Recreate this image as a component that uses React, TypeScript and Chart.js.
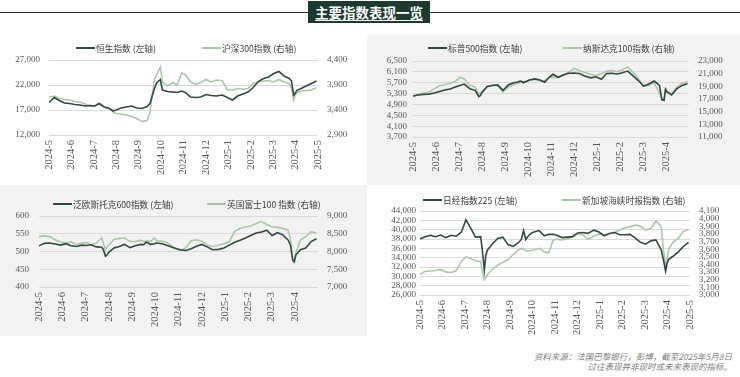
import React, { useEffect, useRef } from "react";
import { Chart, registerables } from "chart.js";

Chart.register(...registerables);

// ---------------- DATA ----------------
const AXIS_START = "2024-05-10";

const DATES = [
  "2024-05-10", "2024-05-17", "2024-05-24", "2024-05-31",
  "2024-06-07", "2024-06-14", "2024-06-21", "2024-06-28",
  "2024-07-05", "2024-07-11", "2024-07-17", "2024-07-24", "2024-07-31",
  "2024-08-02", "2024-08-05", "2024-08-07", "2024-08-09", "2024-08-16", "2024-08-23", "2024-08-30",
  "2024-09-06", "2024-09-13", "2024-09-20", "2024-09-24", "2024-09-27", "2024-09-30",
  "2024-10-03", "2024-10-08", "2024-10-11", "2024-10-18", "2024-10-25", "2024-10-31",
  "2024-11-06", "2024-11-11", "2024-11-18", "2024-11-25",
  "2024-12-02", "2024-12-09", "2024-12-16", "2024-12-23", "2024-12-31",
  "2025-01-07", "2025-01-14", "2025-01-21", "2025-01-28",
  "2025-02-04", "2025-02-11", "2025-02-18", "2025-02-25",
  "2025-03-04", "2025-03-11", "2025-03-18", "2025-03-25", "2025-04-01",
  "2025-04-04", "2025-04-07", "2025-04-09", "2025-04-11", "2025-04-17", "2025-04-24",
  "2025-05-01", "2025-05-08",
];

const MONTH_LABELS = [
  "2024-5", "2024-6", "2024-7", "2024-8", "2024-9", "2024-10", "2024-11",
  "2024-12", "2025-1", "2025-2", "2025-3", "2025-4", "2025-5",
];

// 恒生指数 (左轴)
const HSI = [
  18500, 19500, 18900, 18400, 18300, 18100, 18000, 17800, 17900, 17800, 18300, 17600, 17300,
  17100, 16800, 16900, 17000, 17400, 17600, 17800, 17400, 17300, 17700, 18300, 19800, 21200,
  22400, 23100, 21000, 20700, 20600, 20500, 20800, 20500, 19600, 19500, 19600, 20100, 19900,
  19800, 20000, 19500, 19000, 19800, 20200, 20600, 21500, 22700, 23300, 23600, 24300, 24700,
  23800, 23300, 22800, 20000, 20300, 20900, 21300, 21800, 22300, 22800,
];
// 沪深300指数 (右轴)
const CSI300 = [
  3660, 3680, 3630, 3610, 3600, 3570, 3560, 3520, 3480, 3470, 3530, 3460, 3430,
  3410, 3360, 3340, 3330, 3320, 3300, 3270, 3230, 3170, 3190, 3350, 3700, 4000,
  4100, 4260, 3950, 3880, 3950, 3900, 4140, 4110, 3960, 3910, 3950, 4010, 3960,
  4000, 3990, 3800, 3800, 3830, 3820, 3830, 3930, 3960, 3980, 3990, 3960, 4010,
  3960, 3930, 3850, 3600, 3700, 3740, 3780, 3790, 3800, 3850,
];
// 标普500指数 (左轴)
const SPX = [
  5210, 5250, 5270, 5280, 5320, 5380, 5430, 5470, 5540, 5600, 5650, 5480, 5420,
  5340, 5190, 5220, 5330, 5560, 5600, 5620, 5420, 5620, 5700, 5720, 5740, 5760,
  5700, 5760, 5800, 5840, 5800, 5720, 5900, 6010, 5900, 5990, 6050, 6060, 6040,
  5950, 5880, 5920, 5830, 6040, 6050, 6020, 6070, 6130, 5950, 5780, 5580, 5650,
  5760, 5600, 5080, 5050, 5460, 5360, 5250, 5480, 5600, 5660,
];
// 纳斯达克100指数 (右轴)
const NDX = [
  17330, 17780, 17940, 18100, 18600, 19100, 19250, 19500, 19800, 20400, 20150, 19180, 18900,
  18400, 17800, 17950, 18100, 18900, 19200, 19100, 18100, 18900, 19250, 19450, 19500, 19650,
  19700, 19800, 19950, 20100, 19850, 19900, 20400, 20450, 20400, 20700, 21250, 21800, 21500,
  21200, 20900, 20700, 21000, 21400, 21500, 21300, 21600, 22050, 21200, 20200, 19000, 19180,
  19600, 17900, 17100, 17000, 18600, 18200, 17800, 18900, 19500, 19700,
];
// 泛欧斯托克600指数 (左轴)
const STOXX600 = [
  516, 523, 524, 521, 518, 522, 516, 514, 518, 517, 519, 513, 512,
  506, 487, 490, 497, 510, 514, 520, 511, 516, 520, 519, 526, 524,
  520, 522, 524, 522, 517, 512, 508, 505, 503, 508, 515, 520, 513,
  505, 506, 510, 518, 526, 532, 538, 545, 552, 555, 560, 545, 553,
  547, 532, 518, 476, 472, 490, 505, 510, 528, 536,
];
// 英国富士100 指数 (右轴)
const FTSE100 = [
  8420, 8440, 8420, 8330, 8270, 8240, 8270, 8200, 8240, 8250, 8190, 8240, 8380,
  8250, 8040, 8130, 8170, 8340, 8370, 8380, 8280, 8280, 8320, 8280, 8290, 8300,
  8280, 8380, 8300, 8290, 8250, 8150, 8080, 8030, 8100, 8300, 8330, 8290, 8180,
  8140, 8180, 8220, 8280, 8570, 8650, 8690, 8720, 8790, 8850, 8760, 8690, 8680,
  8650, 8600, 8350, 7720, 7680, 7960, 8320, 8420, 8560, 8520,
];
// 日经指数225 (左轴)
const NIKKEI = [
  38000, 38500, 38800, 38500, 38850, 38300, 38800, 38600, 39500, 42100, 40500, 38400, 38500,
  36000, 31400, 34500, 35600, 37000, 38100, 38400, 36800, 36400, 37200, 37900, 39800, 37900,
  38600, 39300, 39500, 39800, 38700, 39000, 39000, 38800, 38300, 38400, 38500, 39300, 39400,
  39200, 39900, 39500, 38700, 39200, 39400, 38900, 38900, 39000, 38200, 37300, 36900, 37600,
  37800, 35700, 33600, 31100, 32800, 33600, 34300, 35200, 36400, 37300,
];
// 新加坡海峡时报指数 (右轴)
const STI = [
  3270, 3310, 3315, 3320, 3335, 3300, 3295, 3320, 3440, 3500, 3480, 3445, 3440,
  3330, 3200, 3230, 3265, 3340, 3390, 3430, 3460, 3530, 3590, 3610, 3600, 3580,
  3575, 3585, 3590, 3610, 3565, 3550, 3720, 3730, 3720, 3735, 3760, 3795, 3790,
  3730, 3770, 3800, 3780, 3805, 3820, 3850, 3880, 3895, 3915, 3900, 3850, 3870,
  3970, 3900, 3600, 3390, 3460, 3600, 3690, 3740, 3830, 3860,
];

// ---------------- STYLE ----------------
const DARK = "#2f4a3f";
const LIGHT = "#a9c8aa";
const GRID = "#d9d9d9";
const TICK = "#595959";
const PANEL_GREY = "#f2f2f2";
const NUM_FONT = "'Liberation Serif', 'Noto Sans CJK SC', serif";
const CJK_FONT = "'Noto Sans CJK SC', 'Liberation Sans', sans-serif";

function toX(d: string): number {
  const ms = Date.parse(d + "T00:00:00Z") - Date.parse(AXIS_START + "T00:00:00Z");
  return (ms / 86400000 / 365) * 12;
}

type PanelCfg = {
  left: number; top: number; width: number; height: number; bg: string;
  axisL: number; axisR: number; padTop: number; xAxisH: number;
  yLPad: number; yRPad: number; xPad: number;
  lMin: number; lMax: number; lStep: number;
  rMin: number; rMax: number; rStep: number;
  dark: number[]; light: number[];
  darkLabel: string; lightLabel: string;
  hideLast: boolean;
  legY: number; leg1X: number; leg2X: number;
  yFont: number; xFont: number;
};

const PANELS: PanelCfg[] = [
  {
    left: 0, top: 35, width: 367, height: 150, bg: "#ffffff",
    axisL: 49, axisR: 49, padTop: 25, xAxisH: 50, yLPad: 9, yRPad: 9, xPad: 5,
    lMin: 12000, lMax: 27000, lStep: 5000, rMin: 2900, rMax: 4400, rStep: 500,
    dark: HSI, light: CSI300, darkLabel: "恒生指数 (左轴)", lightLabel: "沪深300指数 (右轴)",
    hideLast: false, legY: 48, leg1X: 76, leg2X: 202, yFont: 9, xFont: 10.5,
  },
  {
    left: 367, top: 35, width: 373, height: 150, bg: PANEL_GREY,
    axisL: 46, axisR: 51, padTop: 26, xAxisH: 48, yLPad: 6, yRPad: 9, xPad: 5,
    lMin: 3700, lMax: 6500, lStep: 400, rMin: 11000, rMax: 23000, rStep: 2000,
    dark: SPX, light: NDX, darkLabel: "标普500指数 (左轴)", lightLabel: "纳斯达克100指数 (右轴)",
    hideLast: true, legY: 48, leg1X: 428, leg2X: 563, yFont: 9, xFont: 10.5,
  },
  {
    left: 0, top: 185, width: 367, height: 151, bg: PANEL_GREY,
    axisL: 39, axisR: 49, padTop: 31, xAxisH: 49, yLPad: 10, yRPad: 9, xPad: 5,
    lMin: 400, lMax: 600, lStep: 50, rMin: 7000, rMax: 9000, rStep: 500,
    dark: STOXX600, light: FTSE100, darkLabel: "泛欧斯托克600指数 (左轴)", lightLabel: "英国富士100 指数 (右轴)",
    hideLast: true, legY: 204, leg1X: 53, leg2X: 207, yFont: 9, xFont: 10.5,
  },
  {
    left: 367, top: 185, width: 373, height: 155, bg: "#ffffff",
    axisL: 53, axisR: 50, padTop: 26, xAxisH: 45, yLPad: 4, yRPad: 9, xPad: 5,
    lMin: 26000, lMax: 44000, lStep: 2000, rMin: 3000, rMax: 4100, rStep: 100,
    dark: NIKKEI, light: STI, darkLabel: "日经指数225 (左轴)", lightLabel: "新加坡海峡时报指数 (右轴)",
    hideLast: false, legY: 200, leg1X: 423, leg2X: 562, yFont: 9, xFont: 10.5,
  },
];

function stepTicks(min: number, max: number, step: number) {
  const out: { value: number }[] = [];
  const n = Math.round((max - min) / step);
  for (let i = 0; i <= n; i++) out.push({ value: min + i * step });
  return out;
}

function fmt(v: number | string) {
  return Number(v).toLocaleString("en-US");
}

function ChartPanel({ cfg }: { cfg: PanelCfg }) {
  const ref = useRef<HTMLCanvasElement>(null);
  useEffect(() => {
    const canvas = ref.current;
    if (!canvas) return;
    const chart = new Chart(canvas, {
      type: "line",
      data: {
        datasets: [
          {
            label: cfg.darkLabel,
            data: DATES.map((d, i) => ({ x: toX(d), y: cfg.dark[i] })),
            borderColor: DARK,
            backgroundColor: DARK,
            borderWidth: 1.6,
            pointRadius: 0,
            tension: 0,
            yAxisID: "yL",
          },
          {
            label: cfg.lightLabel,
            data: DATES.map((d, i) => ({ x: toX(d), y: cfg.light[i] })),
            borderColor: LIGHT,
            backgroundColor: LIGHT,
            borderWidth: 1.6,
            pointRadius: 0,
            tension: 0,
            yAxisID: "yR",
          },
        ],
      },
      options: {
        animation: false,
        responsive: false,
        devicePixelRatio: 1,
        events: [],
        layout: { padding: { left: 0, right: 0, top: cfg.padTop, bottom: 0 } },
        plugins: { legend: { display: false }, tooltip: { enabled: false }, title: { display: false } },
        scales: {
          x: {
            type: "linear",
            min: 0,
            max: 12,
            grid: { display: false, drawTicks: false },
            border: { display: false },
            afterFit: (s: any) => { s.height = cfg.xAxisH; },
            afterBuildTicks: (s: any) => { s.ticks = MONTH_LABELS.map((_, i) => ({ value: i })); },
            ticks: {
              autoSkip: false,
              minRotation: 90,
              maxRotation: 90,
              padding: cfg.xPad,
              color: TICK,
              font: { family: NUM_FONT, size: cfg.xFont },
              callback: (v: any) => (cfg.hideLast && Number(v) === 12 ? "" : MONTH_LABELS[Number(v)]),
            },
          },
          yL: {
            type: "linear",
            position: "left",
            min: cfg.lMin,
            max: cfg.lMax,
            grid: { color: GRID, lineWidth: 1, drawTicks: false },
            border: { display: false },
            afterFit: (s: any) => { s.width = cfg.axisL; },
            afterBuildTicks: (s: any) => { s.ticks = stepTicks(cfg.lMin, cfg.lMax, cfg.lStep); },
            ticks: {
              autoSkip: false,
              padding: cfg.yLPad,
              color: TICK,
              font: { family: NUM_FONT, size: cfg.yFont },
              callback: (v: any) => fmt(v),
            },
          },
          yR: {
            type: "linear",
            position: "right",
            min: cfg.rMin,
            max: cfg.rMax,
            grid: { display: false, drawTicks: false },
            border: { display: false },
            afterFit: (s: any) => { s.width = cfg.axisR; },
            afterBuildTicks: (s: any) => { s.ticks = stepTicks(cfg.rMin, cfg.rMax, cfg.rStep); },
            ticks: {
              autoSkip: false,
              padding: cfg.yRPad,
              color: TICK,
              font: { family: NUM_FONT, size: cfg.yFont },
              callback: (v: any) => fmt(v),
            },
          },
        },
      },
    } as any);
    return () => chart.destroy();
  }, [cfg]);

  return (
    <div
      style={{
        position: "absolute",
        left: cfg.left,
        top: cfg.top,
        width: cfg.width,
        height: cfg.height,
        background: cfg.bg,
      }}
    >
      <canvas ref={ref} width={cfg.width} height={cfg.height} style={{ display: "block" }} />
    </div>
  );
}

function LegendItem({ x, y, color, label }: { x: number; y: number; color: string; label: string }) {
  return (
    <div
      style={{
        position: "absolute",
        left: x,
        top: y - 7,
        height: 14,
        display: "flex",
        alignItems: "center",
        whiteSpace: "nowrap",
        fontFamily: CJK_FONT,
        fontSize: 8.7,
        color: "#404040",
      }}
    >
      <span style={{ display: "inline-block", width: 19, height: 2, background: color, marginRight: 1 }} />
      <span>{label}</span>
    </div>
  );
}

export default function App() {
  return (
    <div
      style={{
        position: "fixed",
        left: 0,
        top: 0,
        width: 740,
        height: 377,
        background: "#ffffff",
        overflow: "hidden",
      }}
    >
      {/* header rule */}
      <div style={{ position: "absolute", left: 0, top: 12, width: 740, height: 1, background: "#1c2b26" }} />
      <div
        style={{
          position: "absolute",
          left: 308,
          top: 1,
          width: 122,
          height: 22,
          background: "#1c3a30",
          color: "#ffffff",
          fontFamily: CJK_FONT,
          fontWeight: 700,
          fontSize: 13.5,
          lineHeight: "22px",
          textAlign: "center",
        }}
      >
        <span style={{ textDecoration: "underline", textUnderlineOffset: 2 }}>主要指数表现一览</span>
      </div>

      {PANELS.map((p, i) => (
        <ChartPanel key={i} cfg={p} />
      ))}

      {PANELS.map((p, i) => (
        <React.Fragment key={"lg" + i}>
          <LegendItem x={p.leg1X} y={p.legY} color={DARK} label={p.darkLabel} />
          <LegendItem x={p.leg2X} y={p.legY} color={LIGHT} label={p.lightLabel} />
        </React.Fragment>
      ))}

      <div
        style={{
          position: "absolute",
          right: 8,
          top: 352,
          textAlign: "right",
          fontFamily: CJK_FONT,
          fontStyle: "italic",
          fontSize: 8.5,
          lineHeight: "9.6px",
          color: "#7f7f7f",
          whiteSpace: "nowrap",
        }}
      >
        <div>资料来源：法国巴黎银行，彭博，截至2025年5月8日</div>
        <div>过往表现并非现时或未来表现的指标。</div>
      </div>
    </div>
  );
}
